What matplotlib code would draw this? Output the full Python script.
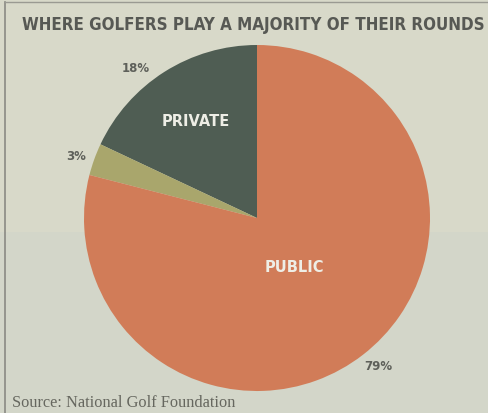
import matplotlib
matplotlib.use("Agg")
import matplotlib.pyplot as plt
from matplotlib.patches import Rectangle

categories = ["PRIVATE", "OTHER", "PUBLIC"]
values = [18, 3, 79]
pct_labels = ["18%", "3%", "79%"]
colors = ["#4f5d53", "#a9a66c", "#d17c58"]

title = "WHERE GOLFERS PLAY A MAJORITY OF THEIR ROUNDS"
source = "Source: National Golf Foundation"

W, H = 489, 413
fig = plt.figure(figsize=(W / 100, H / 100), dpi=100)
fig.patch.set_facecolor("#d8d9c9")
ax = fig.add_axes([0, 0, 1, 1])
ax.set_xlim(0, W)
ax.set_ylim(0, H)
ax.axis("off")

# background bands (scan tone)
ax.add_patch(Rectangle((0, 0), W, H - 232, facecolor="#d3d6c9", edgecolor="none", zorder=0))
# frame lines
ax.plot([5, 5], [0, H - 2], color="#8a8a84", lw=1.2, zorder=1)
ax.plot([5, W], [H - 2, H - 2], color="#9a9a92", lw=1.0, zorder=1)

cx, cy, r = 257, H - 218, 173
wedges, _ = ax.pie(values, colors=colors, startangle=90, counterclock=True,
                   center=(cx, cy), radius=r, frame=True,
                   wedgeprops=dict(linewidth=0, zorder=2))
ax.set_xlim(0, W)
ax.set_ylim(0, H)
ax.set_aspect("equal")
ax.axis("off")

ax.text(253, H - 25, title, ha="center", va="center", fontsize=12.2,
        fontweight="heavy", color="#575954", family="DejaVu Sans", stretch="condensed")

pct_color = "#5e605a"
ax.text(136, H - 68, pct_labels[0], ha="center", va="center", fontsize=8.5,
        fontweight="bold", color=pct_color)
ax.text(76, H - 157, pct_labels[1], ha="center", va="center", fontsize=8.5,
        fontweight="bold", color=pct_color)
ax.text(378, H - 366, pct_labels[2], ha="center", va="center", fontsize=8.5,
        fontweight="bold", color=pct_color)

ax.text(196, H - 122, categories[0], ha="center", va="center", fontsize=10.5,
        fontweight="bold", color="#eeeee6")
ax.text(294, H - 268, categories[2], ha="center", va="center", fontsize=10.5,
        fontweight="bold", color="#eeeee6")

ax.text(12, H - 403, source, ha="left", va="center", fontsize=11.8,
        family="Liberation Serif", color="#66675f")

fig.savefig("out.png", dpi=100, facecolor=fig.get_facecolor())
